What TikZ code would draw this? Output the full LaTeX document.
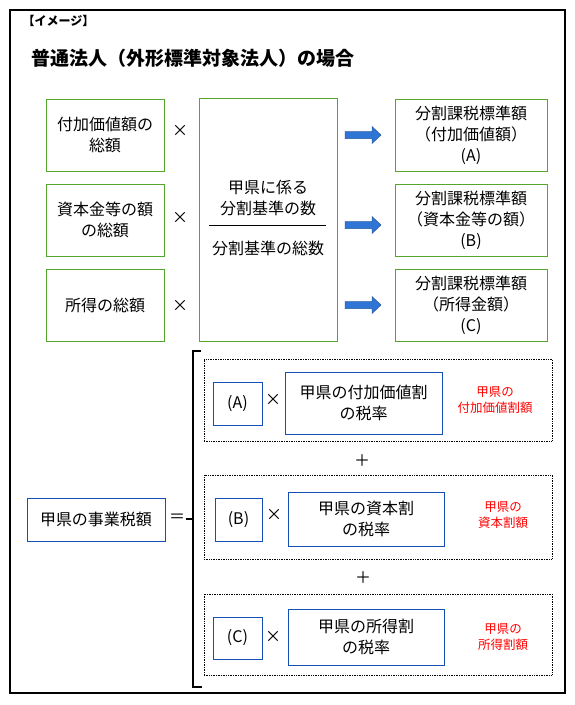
\documentclass[tikz,border=0pt]{standalone}
\usepackage{fontspec}
\setmainfont{Noto Sans CJK JP}
\definecolor{boxgreen}{RGB}{84,166,45}
\definecolor{boxblue}{RGB}{20,80,180}
\definecolor{arrowfill}{RGB}{46,117,214}
\definecolor{arrowline}{RGB}{40,90,160}
\begin{document}
\begin{tikzpicture}[x=1pt,y=-1pt,font=\fontsize{16}{21}\selectfont,
  gbox/.style={draw=boxgreen,line width=1pt,align=center,inner sep=0pt},
  bbox/.style={draw=boxblue,line width=1pt,align=center,inner sep=0pt},
  dotbox/.style={draw,densely dotted,line width=.7pt,inner sep=0pt},
  redtxt/.style={text=red,align=center,font=\fontsize{12.5}{16}\selectfont}]
\useasboundingbox (0,0) rectangle (575,705);
\draw[line width=1.2pt] (10,10) rectangle (565,693);
\node[anchor=west,font=\fontsize{12}{14}\selectfont\bfseries] (tag) at (19,21) {【イメージ】};
\node[anchor=west,font=\fontsize{19}{23}\selectfont\bfseries] (title) at (28,58) {普通法人（外形標準対象法人）の場合};
% upper part
\node[gbox,minimum width=138pt,minimum height=243pt] (share) at (268,219.5) {};
\node (num) at (268,198) [align=center] {甲県に係る\\分割基準の数};
\node (den) at (268,248) {分割基準の総数};
\coordinate (fl) at (209,225);
\coordinate (fr) at (326,225);
\draw[line width=.8pt] (fl) -- (fr);
\foreach \i/\y/\ym/\ya/\base/\res in {1/135/131/135/{付加価値額の\\総額}/{（付加価値額）\\(A)},
  2/220/218/225/{資本金等の額\\の総額}/{（資本金等の額）\\(B)},
  3/305/306/305/{所得の総額}/{（所得金額）\\(C)}}{
  \node[gbox,minimum width=118pt,minimum height=72pt] (base\i) at (105,\y) {\base};
  \node (times\i) at (180,\ym) {×};
  \node[gbox,minimum width=152pt,minimum height=72pt] (std\i) at (471,\y) {分割課税標準額\\\res};
  \filldraw[fill=arrowfill,draw=arrowline,line width=.5pt] (345,\ya-3.5) -- (372,\ya-3.5) -- (372,\ya-8.5)
    -- (381,\ya) -- (372,\ya+8.5) -- (372,\ya+3.5) -- (345,\ya+3.5) -- cycle;
}
% lower part
\node[bbox,minimum width=138pt,minimum height=43pt] (total) at (96,519.5) {甲県の事業税額};
\node (eq) at (177,518) {＝};
\coordinate (brtop) at (201,351);
\coordinate (brbot) at (202,687);
\coordinate (brmid) at (193,519);
\draw[line width=1.8pt] (brtop) -- (193,351) -- (193,687) -- (brbot);
\draw[line width=1.8pt] (brmid) -- ++(-7,0);
\node[dotbox,minimum width=348pt,minimum height=82pt] (rowA) at (378,400) {};
\node[dotbox,minimum width=348pt,minimum height=84pt] (rowB) at (378,517) {};
\node[dotbox,minimum width=348pt,minimum height=81pt] (rowC) at (378,634.5) {};
\node (plus1) at (362,461) {＋};
\node (plus2) at (363,578) {＋};
\node[bbox,minimum width=49pt,minimum height=43pt] (valA) at (237.5,403.5) {(A)};
\node (timesA) at (273,400) {×};
\node[bbox,minimum width=157pt,minimum height=62pt] (rateA) at (363.5,403) {甲県の付加価値割\\の税率};
\node[redtxt] (amtA) at (495,400) {甲県の\\付加価値割額};
\node[bbox,minimum width=47pt,minimum height=43pt] (valB) at (238.5,519.5) {(B)};
\node (timesB) at (274,515) {×};
\node[bbox,minimum width=156pt,minimum height=54pt] (rateB) at (366,519) {甲県の資本割\\の税率};
\node[redtxt] (amtB) at (503,515) {甲県の\\資本割額};
\node[bbox,minimum width=49pt,minimum height=42pt] (valC) at (237.5,638) {(C)};
\node (timesC) at (273,637) {×};
\node[bbox,minimum width=156pt,minimum height=56pt] (rateC) at (366,637) {甲県の所得割\\の税率};
\node[redtxt] (amtC) at (503,637) {甲県の\\所得割額};
\end{tikzpicture}
\end{document}
